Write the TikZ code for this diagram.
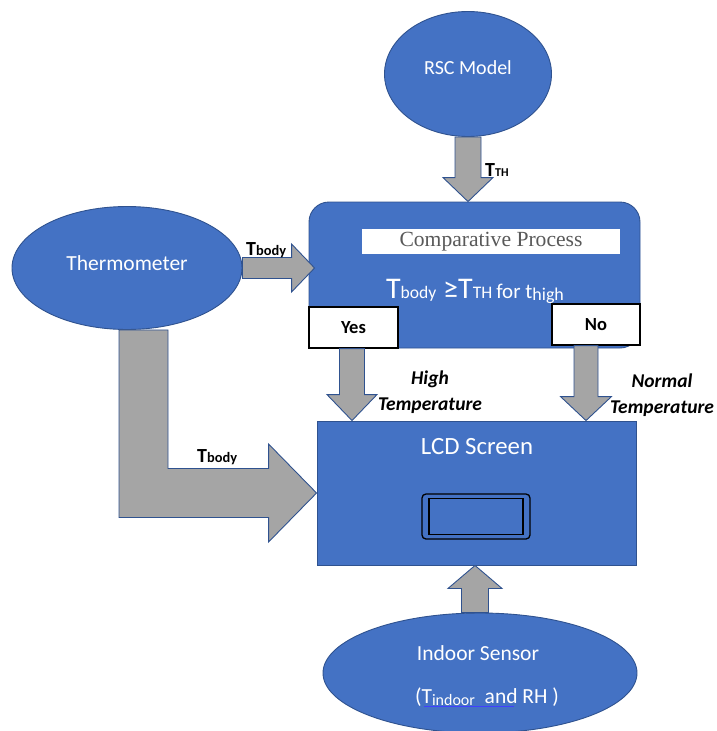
\documentclass[tikz,border=0pt]{standalone}
\usepackage{fontspec}
\setmainfont{Carlito}
\newfontfamily\procfont{Liberation Serif}
\usepackage{tikz}
\usetikzlibrary{calc}
\usetikzlibrary{positioning}
\usetikzlibrary{shapes.geometric}

\definecolor{boxblue}{HTML}{4472C4}
\definecolor{edgeblue}{HTML}{2F528F}
\definecolor{arrowgray}{HTML}{A5A5A5}
\definecolor{procgray}{HTML}{595959}

\newcommand{\fsz}[1]{\fontsize{#1}{#1}\selectfont}

% block arrow: from, tip, shaft half width, head half width, head length
\newcommand{\blockarrow}[5]{%
\coordinate (hb) at ($(#2)!#5!(#1)$);
\draw[garrow] ($(#1)!#3!90:(#2)$) -- ($(hb)!#3!90:(#2)$) -- ($(hb)!#4!90:(#2)$) -- (#2)
  -- ($(hb)!#4!-90:(#2)$) -- ($(hb)!#3!-90:(#2)$) -- ($(#1)!#3!-90:(#2)$) -- cycle;
}

\begin{document}
\begin{tikzpicture}[x=1pt,y=-1pt,
  blob/.style={ellipse,fill=boxblue,draw=edgeblue,line width=0.9pt,inner sep=0pt},
  lbl/.style={text=white,inner sep=0pt},
  garrow/.style={fill=arrowgray,draw=edgeblue,line width=0.9pt,line join=miter},
  choice/.style={draw=black,fill=white,line width=1.3pt,inner sep=0pt,minimum width=89pt,minimum height=41pt,font=\fsz{18.5}\bfseries},
  side/.style={inner sep=0pt,font=\fontsize{19.5}{26}\selectfont\bfseries\itshape,align=center}]
\useasboundingbox (0,0) rectangle (716,731);

\node[blob,minimum width=167pt,minimum height=125pt] (rsc) at (468,74) {};
\node[lbl,font=\fsz{20}] (rsc text) at (468,68) {RSC Model};

\node[blob,minimum width=230pt,minimum height=123pt] (thermo) at (127,268) {};
\node[lbl,font=\fsz{21.5}] (thermo text) at (127,263) {Thermometer};

\node[fill=boxblue,draw=edgeblue,line width=0.9pt,rounded corners=20pt,minimum width=331pt,minimum height=146pt] (cmp) at (474.5,275) {};
\node[fill=white,inner sep=0pt,minimum width=258pt,minimum height=25pt,font=\procfont\fsz{21.6},text=procgray] (cmp title) at (491,241.5) {Comparative Process};
\node[lbl,anchor=base] (rule) at (475,298) {\fsz{30}T\fsz{17.6}body\fsz{30} ≥T\fsz{17.6}TH \fsz{21}for t\raisebox{-2.5pt}{\fsz{18}high}};

\node[choice] (yes) at (353.5,327.5) {Yes};
\node[choice,minimum width=88pt] (no) at (596,324.5) {No};

\node[fill=boxblue,draw=edgeblue,line width=0.9pt,minimum width=319pt,minimum height=144pt] (lcd) at (476.5,493) {};
\node[lbl,font=\fsz{24.8}] (lcd text) at (477,447) {LCD Screen};
\node[draw=black,line width=1.3pt,rounded corners=4pt,minimum width=108pt,minimum height=45pt] (icon) at (476,516.5) {};
\node[draw=black,line width=1.3pt,minimum width=94pt,minimum height=36pt] (icon screen) at (icon.center) {};

\node[blob,minimum width=314pt,minimum height=120pt] (indoor) at (480,673) {};
\node[lbl,font=\fsz{21.5}] (indoor text) at (478,653) {Indoor Sensor};
\node[lbl,font=\fsz{21.5}] (indoor vals) at (487,697) {(T\raisebox{-2pt}{\fsz{16}indoor}\ \ and RH )};
\draw[blue!75!white,line width=0.6pt] (424,706) -- (514,706);

\coordinate (rsc tip) at (rsc.south |- cmp.north);
\blockarrow{rsc.south}{rsc tip}{13pt}{25pt}{24pt}
\node[anchor=west,inner sep=0pt,font=\bfseries] (tth) at (485,170) {\fsz{20}T\fsz{12}TH};

\coordinate (thermo tip) at ($(thermo.east -| cmp.west)+(6,0)$);
\blockarrow{thermo.east}{thermo tip}{10.5pt}{24pt}{23pt}
\node[anchor=base west,inner sep=0pt,font=\bfseries] (tbody a) at (246,255) {\fsz{20}T\fsz{14.4}body};

\coordinate (yes tip) at ([xshift=-1.5pt]yes.south |- lcd.north);
\blockarrow{[xshift=-1.5pt]yes.south}{yes tip}{12.5pt}{25pt}{26pt}
\node[side] (high) at (430,392) {High\\Temperature};

\coordinate (no out) at ([xshift=-10pt]no.south);
\coordinate (no tip) at (no out |- lcd.north);
\blockarrow{no out}{no tip}{12pt}{25.5pt}{24pt}
\node[side] (normal) at (662,395) {Normal\\Temperature};

\coordinate (indoor out) at ([xshift=-5pt]indoor.north);
\coordinate (indoor tip) at (indoor out |- lcd.south);
\blockarrow{indoor out}{indoor tip}{13.5pt}{27pt}{23pt}

\coordinate (l top) at ([xshift=16.5pt]thermo.south);
\draw[garrow] ($(l top)+(-24.5,0)$) -- ($(l top)+(24.5,0)$) |- ($(lcd.west)+(-48,-24.5)$)
  -- ++(0,-24.5) -- (lcd.west) -- ++(-48,49) -- ++(0,-24.5) -| ($(l top)+(-24.5,0)$) -- cycle;
\node[anchor=base west,inner sep=0pt,font=\bfseries] (tbody b) at (197,462) {\fsz{20}T\fsz{14.4}body};
\end{tikzpicture}
\end{document}
